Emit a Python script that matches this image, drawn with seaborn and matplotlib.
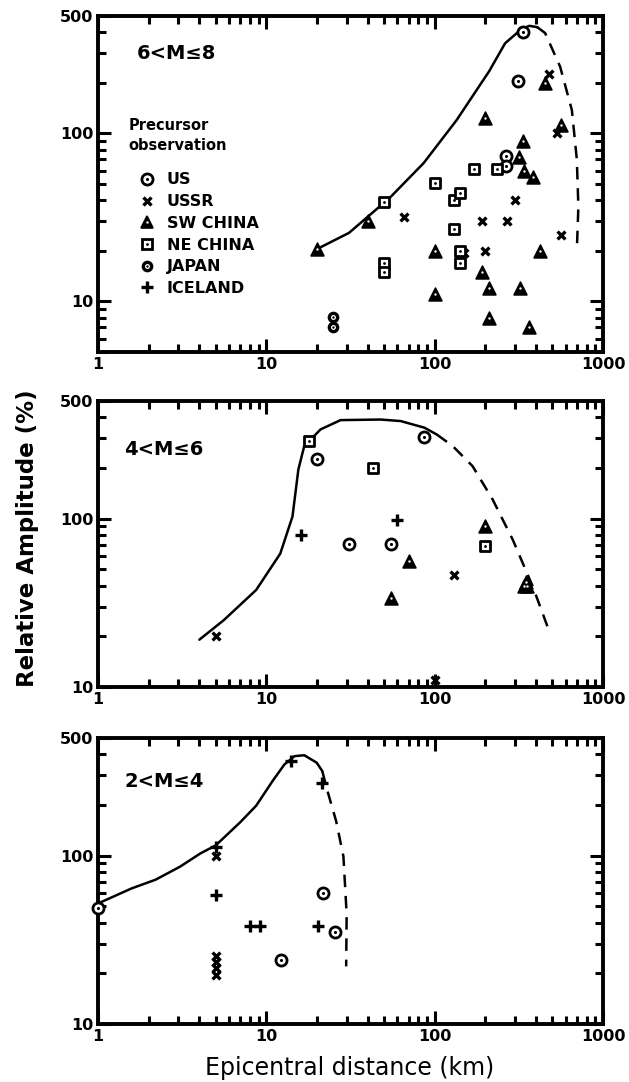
import numpy as np
import pandas as pd
import seaborn as sns
import matplotlib.pyplot as plt
from matplotlib.lines import Line2D
from matplotlib.ticker import FixedLocator, FixedFormatter, LogLocator, NullFormatter

# --- donnees (distance km, amplitude relative %) ---
sources = ['US', 'USSR', 'SW CHINA', 'NE CHINA', 'JAPAN', 'ICELAND']

# panneau 6<M<=8
top_us_x = [336, 313, 266, 266]
top_us_y = [403, 204, 73, 64]
top_ussr_x = [66, 150, 190, 200, 270, 300, 475, 530, 560]
top_ussr_y = [32, 19.5, 30, 20, 30, 40, 225, 100, 25]
top_sw_x = [20, 40, 100, 100, 200, 190, 210, 210, 318, 336, 340, 385, 320, 365, 420, 450, 560]
top_sw_y = [20.5, 30, 20, 11, 123, 15, 12, 8, 72, 90, 60, 55, 12, 7, 20, 200, 112]
top_ne_x = [50, 50, 50, 100, 130, 142, 131, 142, 142, 172, 234]
top_ne_y = [39, 17, 15, 51, 40, 44, 27, 20, 17, 61, 61]
top_jp_x = [25, 25]
top_jp_y = [8.1, 7.0]
top_curve_x = [20, 31, 54, 86, 135, 211, 262, 327, 365, 407]
top_curve_y = [20.5, 25.6, 41.3, 66.6, 120, 235, 344, 417, 437, 429]
top_dash_x = [407, 453, 556, 653, 699, 714, 699]
top_dash_y = [429, 396, 250, 138, 70, 36.8, 20]

# panneau 4<M<=6
mid_us_x = [20, 31, 55, 86]
mid_us_y = [225, 71, 71, 305]
mid_ussr_x = [5, 100, 130]
mid_ussr_y = [20, 11, 46]
mid_sw_x = [55, 70, 200, 340, 355, 348]
mid_sw_y = [34, 56, 90, 40, 40, 42]
mid_ne_x = [18, 43, 200]
mid_ne_y = [290, 200, 69]
mid_ice_x = [16, 60]
mid_ice_y = [80, 98]
mid_curve_x = [4.0, 5.6, 8.7, 12.1, 14.3, 15.5, 16.8, 21, 27.6, 47.7, 62.8, 87, 103]
mid_curve_y = [19.1, 25, 37.7, 62, 103, 196, 270, 339, 385, 388, 380, 347, 316]
mid_dash_x = [103, 128, 168, 221, 291, 383, 477]
mid_dash_y = [316, 270, 205, 130, 75, 39.4, 21.7]

# panneau 2<M<=4
bot_us_x = [1, 12.3, 21.6, 25.6]
bot_us_y = [49, 24, 60, 35]
bot_ussr_x = [5, 5, 5, 5, 5]
bot_ussr_y = [100, 25.5, 23.5, 21.5, 19.5]
bot_ice_x = [5, 5, 8, 9.2, 14, 21.3, 20.4]
bot_ice_y = [112, 58, 38, 38, 365, 271, 38]
bot_curve_x = [1, 1.59, 2.2, 3.07, 4.05, 5.0, 7.0, 8.7, 10.9, 12.8, 14.7, 16.8, 19.9, 21.5]
bot_curve_y = [52, 64, 72, 86, 103, 115, 158, 198, 278, 348, 390, 395, 357, 318]
bot_dash_x = [21.5, 23, 26, 28.7, 30, 29.8]
bot_dash_y = [318, 245, 160, 99, 45, 22]

panel_labels = ['6<M≤8', '4<M≤6', '2<M≤4']

# table longue
rows = []
for panel, groups in [
    (0, [('US', top_us_x, top_us_y), ('USSR', top_ussr_x, top_ussr_y),
         ('SW CHINA', top_sw_x, top_sw_y), ('NE CHINA', top_ne_x, top_ne_y),
         ('JAPAN', top_jp_x, top_jp_y)]),
    (1, [('US', mid_us_x, mid_us_y), ('USSR', mid_ussr_x, mid_ussr_y),
         ('SW CHINA', mid_sw_x, mid_sw_y), ('NE CHINA', mid_ne_x, mid_ne_y),
         ('ICELAND', mid_ice_x, mid_ice_y)]),
    (2, [('US', bot_us_x, bot_us_y), ('USSR', bot_ussr_x, bot_ussr_y),
         ('ICELAND', bot_ice_x, bot_ice_y)]),
]:
    for src, xs, ys in groups:
        for x, y in zip(xs, ys):
            rows.append({'panel': panel, 'source': src, 'x': x, 'y': y})
df = pd.DataFrame(rows)

curves = [
    (top_curve_x, top_curve_y, top_dash_x, top_dash_y),
    (mid_curve_x, mid_curve_y, mid_dash_x, mid_dash_y),
    (bot_curve_x, bot_curve_y, bot_dash_x, bot_dash_y),
]

# style des symboles
style = {
    'US':       dict(marker='o', s=64, fc='white', lw=2.0, dot='black', ds=5),
    'USSR':     dict(marker='x', s=32, fc=None, lw=2.4, dot=None, ds=0),
    'SW CHINA': dict(marker='^', s=85, fc='black', lw=1.2, dot='white', ds=3),
    'NE CHINA': dict(marker='s', s=52, fc='white', lw=2.0, dot='black', ds=4),
    'JAPAN':    dict(marker='o', s=36, fc='white', lw=2.4, dot='black', ds=3),
    'ICELAND':  dict(marker='+', s=64, fc=None, lw=2.4, dot=None, ds=0),
}

sns.set_theme(style='ticks')
plt.rcParams['font.family'] = ['DejaVu Sans']
plt.rcParams['font.weight'] = 'bold'
plt.rcParams['text.color'] = 'black'
plt.rcParams['axes.labelcolor'] = 'black'

fig = plt.figure(figsize=(6.29, 10.82), dpi=100)
L, W = 98 / 629, 505 / 629
pos = [(16, 352), (401, 687), (738, 1024)]
ylims = [(5, 500), (10, 500), (10, 500)]
label_y = [0.887, 0.83, 0.847]

for i, (top_px, bot_px) in enumerate(pos):
    ax = fig.add_axes([L, 1 - bot_px / 1082, W, (bot_px - top_px) / 1082])
    ax.set_xscale('log')
    ax.set_yscale('log')

    cx, cy, dx, dy = curves[i]
    sns.lineplot(x=cx, y=cy, ax=ax, sort=False, estimator=None, color='black', lw=1.8)
    sns.lineplot(x=dx, y=dy, ax=ax, sort=False, estimator=None, color='black', lw=1.8,
                 linestyle=(0, (5, 3.5)))

    sub = df[df['panel'] == i]
    for src in sources:
        d = sub[sub['source'] == src]
        if d.empty:
            continue
        st = style[src]
        if st['fc'] is None:
            sns.scatterplot(data=d, x='x', y='y', ax=ax, marker=st['marker'], s=st['s'],
                            color='black', linewidth=st['lw'], legend=False,
                            zorder=3, clip_on=False)
        else:
            sns.scatterplot(data=d, x='x', y='y', ax=ax, marker=st['marker'], s=st['s'],
                            color=st['fc'], edgecolor='black', linewidth=st['lw'],
                            legend=False, zorder=3, clip_on=False)
            sns.scatterplot(data=d, x='x', y='y', ax=ax, marker='o', s=st['ds'],
                            color=st['dot'], linewidth=0, legend=False,
                            zorder=4, clip_on=False)

    ax.set_xlim(1, 1000)
    ax.set_ylim(*ylims[i])
    ax.xaxis.set_major_locator(FixedLocator([1, 10, 100, 1000]))
    ax.xaxis.set_major_formatter(FixedFormatter(['1', '10', '100', '1000']))
    ax.xaxis.set_minor_locator(LogLocator(base=10, subs=np.arange(2, 10), numticks=20))
    ax.xaxis.set_minor_formatter(NullFormatter())
    ax.yaxis.set_major_locator(FixedLocator([10, 100, 500]))
    ax.yaxis.set_major_formatter(FixedFormatter(['10', '100', '500']))
    ax.yaxis.set_minor_locator(LogLocator(base=10, subs=np.arange(2, 10), numticks=20))
    ax.yaxis.set_minor_formatter(NullFormatter())
    ax.tick_params(which='major', direction='in', length=9.5, width=2.2, top=True, right=True,
                   labelsize=11.5, pad=3.5, color='black', labelcolor='black')
    ax.tick_params(which='minor', direction='in', length=6, width=2.2, top=True, right=True,
                   color='black')
    for sp in ax.spines.values():
        sp.set_linewidth(2.8)
        sp.set_color('black')
    ax.set_xlabel('')
    ax.set_ylabel('')
    ax.text(0.052 if i else 0.077, label_y[i], panel_labels[i], transform=ax.transAxes,
            fontsize=14, fontweight='bold', va='center', ha='left', color='black')

    if i == 0:
        ax.text(0.060, 0.695, 'Precursor\nobservation', transform=ax.transAxes,
                fontsize=10.5, fontweight='bold', va='top', ha='left', linespacing=1.35,
                color='black')
        handles = []
        for src in sources:
            st = style[src]
            if st['fc'] is None:
                h = Line2D([], [], ls='none', marker=st['marker'], ms=np.sqrt(st['s']),
                           color='black', mew=st['lw'])
            else:
                h1 = Line2D([], [], ls='none', marker=st['marker'], ms=np.sqrt(st['s']),
                            mfc=st['fc'], mec='black', mew=st['lw'])
                h2 = Line2D([], [], ls='none', marker='o', ms=np.sqrt(st['ds']),
                            mfc=st['dot'], mec='none')
                h = (h1, h2)
            handles.append(h)
        leg = ax.legend(handles, sources, loc='upper left', bbox_to_anchor=(0.052, 0.558),
                        frameon=False, borderpad=0, handlelength=1.8, handletextpad=0.35,
                        labelspacing=0.42, prop={'size': 11.5, 'weight': 'bold'})
        for t in leg.get_texts():
            t.set_color('black')

fig.text(0.043, 0.503, 'Relative Amplitude (%)', rotation=90, fontsize=16.5,
         fontweight='bold', ha='center', va='center', color='black')
fig.text(0.556, 0.013, 'Epicentral distance (km)', fontsize=17, fontweight='normal',
         ha='center', va='center', color='black')

fig.savefig('out.png', dpi=100)
